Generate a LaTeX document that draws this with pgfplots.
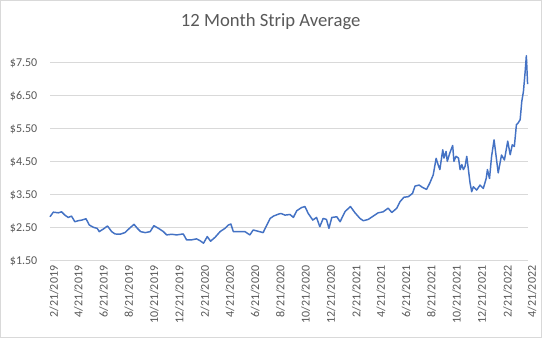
\documentclass[border=0pt]{standalone}
\usepackage{pgfplots}
\pgfplotsset{compat=1.18}
\usepackage{fontspec}
\setmainfont{Carlito}
\definecolor{linecol}{HTML}{4472C4}
\definecolor{gridcol}{HTML}{D9D9D9}
\definecolor{txtcol}{HTML}{595959}
\pgfplotstableread{
day val
0 2.84
8 2.98
20 2.96
28 2.99
36 2.89
44 2.82
52 2.86
60 2.69
68 2.72
77 2.74
87 2.78
95 2.59
105 2.52
114 2.49
119 2.39
129 2.47
139 2.56
149 2.39
157 2.32
169 2.31
181 2.36
192 2.49
203 2.61
211 2.49
219 2.39
230 2.36
242 2.39
251 2.57
262 2.49
274 2.39
282 2.29
294 2.31
306 2.29
322 2.32
330 2.14
342 2.14
354 2.17
362 2.12
371 2.04
380 2.24
388 2.10
399 2.22
411 2.39
423 2.49
431 2.59
437 2.62
443 2.39
455 2.39
471 2.39
483 2.29
491 2.44
506 2.39
515 2.36
524 2.59
532 2.79
540 2.86
552 2.92
558 2.94
568 2.89
580 2.91
588 2.82
596 3.02
608 3.12
616 3.15
624 2.94
635 2.74
644 2.82
652 2.54
660 2.79
668 2.76
674 2.49
681 2.82
693 2.84
701 2.69
713 3.00
726 3.15
737 2.96
749 2.79
757 2.72
769 2.76
781 2.86
793 2.96
805 2.99
817 3.10
826 2.97
838 3.10
846 3.30
855 3.43
866 3.45
876 3.55
882 3.77
892 3.80
900 3.73
910 3.67
918 3.87
926 4.11
933 4.61
938 4.41
942 4.27
949 4.87
952 4.62
957 4.82
960 4.52
966 4.77
973 5.00
976 4.52
981 4.67
987 4.62
991 4.27
995 4.42
999 4.27
1003 4.37
1007 4.67
1011 4.27
1015 3.86
1019 3.60
1023 3.75
1031 3.65
1039 3.80
1047 3.70
1054 4.00
1057 4.27
1062 4.00
1067 4.67
1073 5.17
1078 4.67
1083 4.17
1091 4.71
1098 4.56
1106 5.13
1112 4.72
1117 5.02
1122 4.97
1127 5.63
1131 5.68
1136 5.78
1140 6.34
1144 6.64
1148 7.22
1151 7.72
1154 6.86
}\stripdata
\begin{document}
\begin{tikzpicture}
\fill[white] (0,0) rectangle (406.5pt,253.5pt);
\draw[gridcol, line width=0.75pt] (0.4pt,0.4pt) rectangle (406.1pt,253.1pt);
\node[text=txtcol, font=\fontsize{14}{16}\selectfont] at (203pt,237pt) {12 Month Strip Average};
\begin{axis}[
  at={(37.5pt,57.75pt)}, anchor=south west,
  scale only axis, width=358.5pt, height=160.9pt,
  xmin=0, xmax=1155, ymin=1.5, ymax=8.0,
  axis line style={draw=none},
  ytick={1.5,2.5,3.5,4.5,5.5,6.5,7.5},
  yticklabels={\$1.50,\$2.50,\$3.50,\$4.50,\$5.50,\$6.50,\$7.50},
  xtick={0,59,120,181,242,303,365,425,486,547,608,669,731,790,851,912,973,1034,1096,1155},
  xticklabels={2/21/2019,4/21/2019,6/21/2019,8/21/2019,10/21/2019,12/21/2019,2/21/2020,4/21/2020,6/21/2020,8/21/2020,10/21/2020,12/21/2020,2/21/2021,4/21/2021,6/21/2021,8/21/2021,10/21/2021,12/21/2021,2/21/2022,4/21/2022},
  xticklabel style={rotate=90, anchor=east, font=\fontsize{9}{10}\selectfont, text=txtcol, yshift=-3pt},
  yticklabel style={font=\fontsize{9}{10}\selectfont, text=txtcol, xshift=-6pt},
  major tick length=0pt,
  ymajorgrids, grid style={gridcol, line width=0.75pt},
  /pgf/number format/assume math mode=true,
  clip=false,
]
\addplot[linecol, line width=1.1pt, line join=round] table[x=day, y=val] {\stripdata};
\end{axis}
\end{tikzpicture}
\end{document}
